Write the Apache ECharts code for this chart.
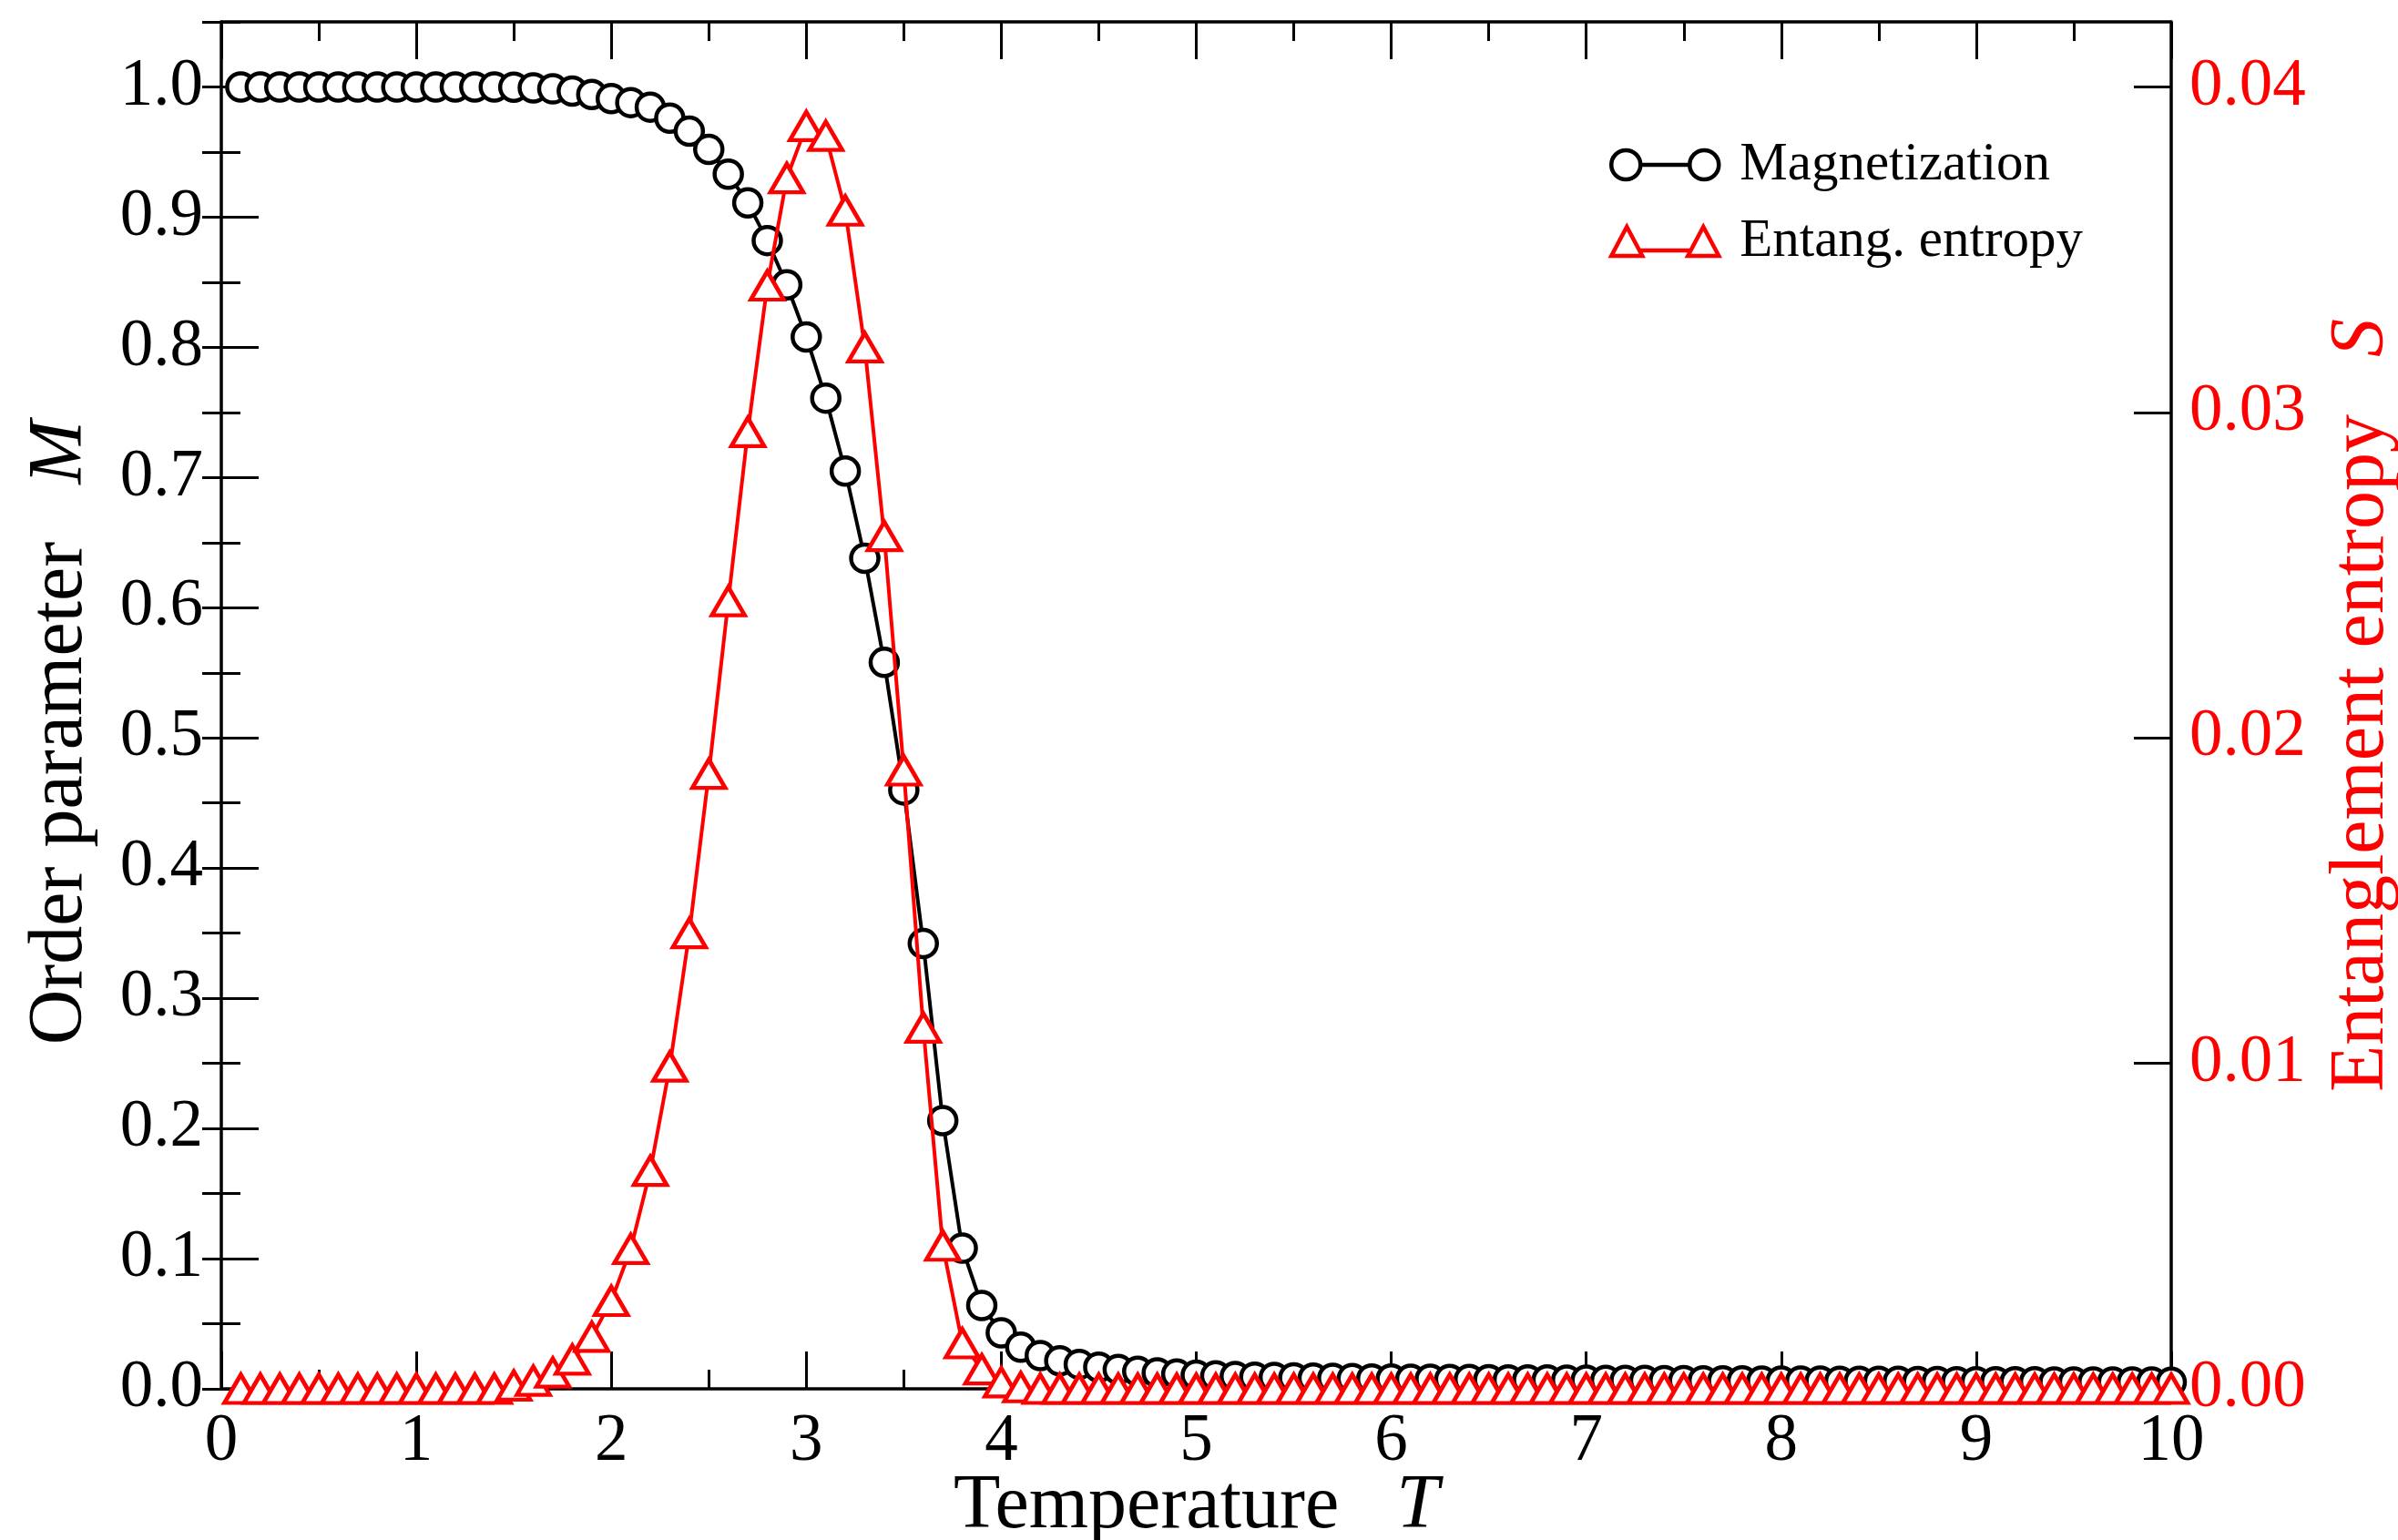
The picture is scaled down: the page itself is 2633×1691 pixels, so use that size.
<!DOCTYPE html>
<html>
<head>
<meta charset="utf-8">
<title>Magnetization and entanglement entropy vs temperature</title>
<script src="https://cdn.jsdelivr.net/npm/echarts@6/dist/echarts.min.js"></script>
<style>
  html, body { margin: 0; padding: 0; background: #ffffff; }
  #chart { width: 2633px; height: 1691px; }
</style>
</head>
<body>
<div id="chart"></div>
<script>
// Temperature grid T
const temperature = [
  0.1, 0.2, 0.3, 0.4, 0.5, 0.6, 0.7, 0.8, 0.9, 1.0,
  1.1, 1.2, 1.3, 1.4, 1.5, 1.6, 1.7, 1.8, 1.9, 2.0,
  2.1, 2.2, 2.3, 2.4, 2.5, 2.6, 2.7, 2.8, 2.9, 3.0,
  3.1, 3.2, 3.3, 3.4, 3.5, 3.6, 3.7, 3.8, 3.9, 4.0,
  4.1, 4.2, 4.3, 4.4, 4.5, 4.6, 4.7, 4.8, 4.9, 5.0,
  5.1, 5.2, 5.3, 5.4, 5.5, 5.6, 5.7, 5.8, 5.9, 6.0,
  6.1, 6.2, 6.3, 6.4, 6.5, 6.6, 6.7, 6.8, 6.9, 7.0,
  7.1, 7.2, 7.3, 7.4, 7.5, 7.6, 7.7, 7.8, 7.9, 8.0,
  8.1, 8.2, 8.3, 8.4, 8.5, 8.6, 8.7, 8.8, 8.9, 9.0,
  9.1, 9.2, 9.3, 9.4, 9.5, 9.6, 9.7, 9.8, 9.9, 10.0
];

// Order parameter M (left axis)
const magnetization = [
  1.0, 1.0, 1.0, 1.0, 1.0, 1.0, 1.0, 1.0, 1.0, 1.0,
  1.0, 1.0, 1.0, 1.0, 0.9998, 0.9993, 0.9985, 0.9968, 0.9942, 0.9910,
  0.9880, 0.9845, 0.9760, 0.9660, 0.9520, 0.9330, 0.9110, 0.8820, 0.8480, 0.8080,
  0.7610, 0.7050, 0.6380, 0.5580, 0.4600, 0.3420, 0.2060, 0.1080, 0.0640, 0.0430,
  0.0320, 0.0255, 0.0215, 0.0188, 0.0166, 0.0148, 0.0134, 0.0122, 0.0113, 0.0105,
  0.0099, 0.0094, 0.0090, 0.0087, 0.0084, 0.0082, 0.0080, 0.0078, 0.0076, 0.0075,
  0.0074, 0.0073, 0.0072, 0.0071, 0.0070, 0.0069, 0.0068, 0.0068, 0.0067, 0.0066,
  0.0065, 0.0065, 0.0064, 0.0063, 0.0063, 0.0062, 0.0061, 0.0061, 0.0060, 0.0060,
  0.0059, 0.0059, 0.0058, 0.0058, 0.0057, 0.0057, 0.0056, 0.0056, 0.0055, 0.0055,
  0.0055, 0.0054, 0.0054, 0.0053, 0.0053, 0.0053, 0.0052, 0.0052, 0.0052, 0.0051
];

// Entanglement entropy S (right axis)
const entropy = [
  0, 0, 0, 0, 0, 0, 0, 0, 0, 0,
  0, 0, 0, 0, 0.0001, 0.00025, 0.0005, 0.0009, 0.0016, 0.0027,
  0.0043, 0.0067, 0.0099, 0.0140, 0.0189, 0.0242, 0.0294, 0.0339, 0.0372, 0.0388,
  0.0385, 0.0362, 0.0320, 0.0262, 0.0190, 0.0111, 0.0044, 0.0014, 0.0006, 0.0002,
  0.00005, 0, 0, 0, 0, 0, 0, 0, 0, 0,
  0, 0, 0, 0, 0, 0, 0, 0, 0, 0,
  0, 0, 0, 0, 0, 0, 0, 0, 0, 0,
  0, 0, 0, 0, 0, 0, 0, 0, 0, 0,
  0, 0, 0, 0, 0, 0, 0, 0, 0, 0,
  0, 0, 0, 0, 0, 0, 0, 0, 0, 0
];

const seriesNames = ['Magnetization', 'Entang. entropy'];

const SERIF = 'Liberation Serif';
const RED = '#ff0000';
const BLACK = '#000000';
const TICK_FONT = 73;
const TITLE_FONT = 84;

const chart = echarts.init(document.getElementById('chart'), null, { renderer: 'canvas' });

const majorTick = (len) => ({ show: true, inside: true, length: len, lineStyle: { color: BLACK, width: 3 } });
const frameLine = { show: true, onZero: false, lineStyle: { color: BLACK, width: 3.5 } };

// legend glyphs: marker - line - marker
const circlePairIcon = 'path://M0,16 A16,16 0 1,1 32,16 A16,16 0 1,1 0,16 Z M32,16 L86,16 ' +
  'M86,16 A16,16 0 1,1 118,16 A16,16 0 1,1 86,16 Z';
const trianglePairIcon = 'path://M17,0 L34,32 L0,32 Z M31,26 L87,26 M101,0 L118,32 L84,32 Z';

const option = {
  backgroundColor: '#ffffff',
  animation: false,
  grid: { left: 243, right: 249, top: 24, bottom: 166, containLabel: false, outerBoundsMode: 'none' },
  legend: {
    show: true,
    orient: 'vertical',
    left: 1762,
    top: 146,
    itemWidth: 118,
    itemHeight: 32,
    itemGap: 24,
    selectedMode: false,
    textStyle: { fontFamily: SERIF, fontSize: 59, color: BLACK, lineHeight: 60, padding: [0, 0, 0, 18] },
    data: [
      {
        name: seriesNames[0],
        icon: circlePairIcon,
        itemStyle: { color: '#ffffff', borderColor: BLACK, borderWidth: 4.5 }
      },
      {
        name: seriesNames[1],
        icon: trianglePairIcon,
        itemStyle: { color: '#ffffff', borderColor: RED, borderWidth: 4.5 }
      }
    ]
  },
  xAxis: [
    {
      type: 'value', position: 'bottom', min: 0, max: 10, interval: 1,
      name: 'Temperature   {i|T}', nameLocation: 'middle', nameGap: 88, nameMoveOverlap: false,
      nameTextStyle: {
        fontFamily: SERIF, fontSize: TITLE_FONT, color: BLACK,
        rich: { i: { fontFamily: SERIF, fontSize: TITLE_FONT, fontStyle: 'italic', color: BLACK } }
      },
      axisLine: frameLine,
      axisTick: majorTick(41),
      minorTick: { show: true, splitNumber: 2, length: 21, lineStyle: { color: BLACK, width: 3 } },
      axisLabel: { show: true, fontFamily: SERIF, fontSize: TICK_FONT, color: BLACK, margin: 22 },
      splitLine: { show: false },
      minorSplitLine: { show: false }
    },
    {
      type: 'value', position: 'top', min: 0, max: 10, interval: 1,
      axisLine: frameLine,
      axisTick: majorTick(41),
      minorTick: { show: true, splitNumber: 2, length: 21, lineStyle: { color: BLACK, width: 3 } },
      axisLabel: { show: false },
      splitLine: { show: false },
      minorSplitLine: { show: false }
    }
  ],
  yAxis: [
    {
      type: 'value', position: 'left', min: 0, max: 1.05, interval: 0.1,
      name: 'Order parameter   {i|M}', nameLocation: 'middle', nameGap: 134, nameRotate: 90,
      nameTextStyle: {
        fontFamily: SERIF, fontSize: TITLE_FONT, color: BLACK, padding: [0, 60, 0, 0],
        rich: { i: { fontFamily: SERIF, fontSize: TITLE_FONT, fontStyle: 'italic', color: BLACK } }
      },
      axisLine: frameLine,
      axisTick: majorTick(41),
      axisLabel: {
        show: true, fontFamily: SERIF, fontSize: TICK_FONT, color: BLACK, margin: 20,
        showMaxLabel: false, formatter: (v) => v.toFixed(1)
      },
      splitLine: { show: false }
    },
    {
      type: 'value', position: 'left', min: 0, max: 1.05, interval: 0.05,
      axisLine: { show: false },
      axisTick: majorTick(21),
      axisLabel: { show: false },
      splitLine: { show: false }
    },
    {
      type: 'value', position: 'right', min: 0, max: 0.042, interval: 0.01,
      name: 'Entanglement entropy   {i|S}', nameLocation: 'middle', nameGap: 168, nameRotate: 90,
      nameTextStyle: {
        fontFamily: SERIF, fontSize: TITLE_FONT, color: RED,
        rich: { i: { fontFamily: SERIF, fontSize: TITLE_FONT, fontStyle: 'italic', color: RED } }
      },
      axisLine: frameLine,
      axisTick: majorTick(41),
      axisLabel: {
        show: true, fontFamily: SERIF, fontSize: TICK_FONT, color: RED, margin: 20,
        showMaxLabel: false, formatter: (v) => v.toFixed(2)
      },
      splitLine: { show: false }
    },
    {
      type: 'value', position: 'right', min: 0, max: 0.042, interval: 0.002,
      axisLine: { show: false },
      axisTick: majorTick(21),
      axisLabel: { show: false },
      splitLine: { show: false }
    }
  ],
  series: [
    {
      name: seriesNames[0],
      type: 'line',
      xAxisIndex: 0,
      yAxisIndex: 0,
      data: temperature.map((t, i) => [t, magnetization[i]]),
      symbol: 'circle',
      symbolSize: 30,
      showSymbol: true,
      clip: false,
      z: 2,
      itemStyle: { color: '#ffffff', borderColor: BLACK, borderWidth: 4.5 },
      lineStyle: { color: BLACK, width: 4 },
      emphasis: { disabled: true }
    },
    {
      name: seriesNames[1],
      type: 'line',
      xAxisIndex: 0,
      yAxisIndex: 2,
      data: temperature.map((t, i) => [t, entropy[i]]),
      symbol: 'triangle',
      symbolSize: [36, 31],
      showSymbol: true,
      clip: false,
      z: 3,
      itemStyle: { color: '#ffffff', borderColor: RED, borderWidth: 4.5 },
      lineStyle: { color: RED, width: 4 },
      emphasis: { disabled: true }
    }
  ]
};

chart.setOption(option);
</script>
</body>
</html>
